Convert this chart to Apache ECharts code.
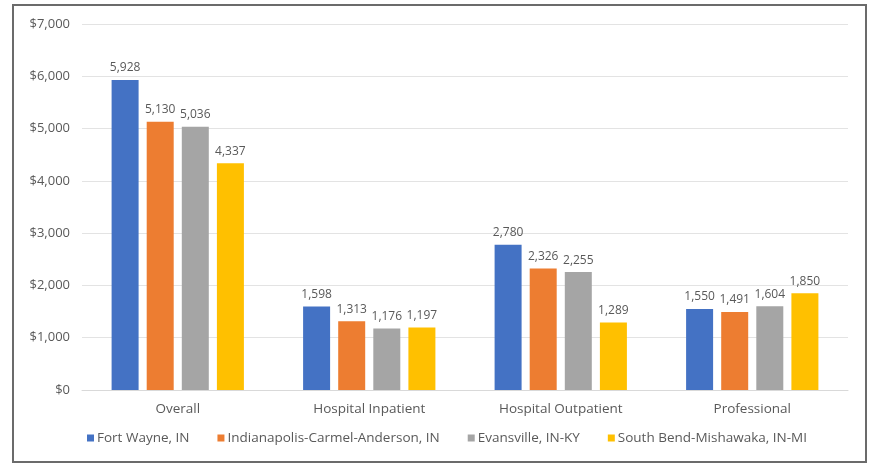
<!DOCTYPE html>
<html>
<head>
<meta charset="utf-8">
<script src="https://cdn.jsdelivr.net/npm/echarts@6/dist/echarts.min.js"></script>
<style>
  html, body { margin: 0; padding: 0; background: #fff; }
  #chart { width: 871px; height: 465px; }
</style>
</head>
<body>
<div id="chart"></div>
<script>
// Spending categories along the x axis
const categories = ['Overall', 'Hospital Inpatient', 'Hospital Outpatient', 'Professional'];

// One series per metro area
const fortWayne    = [5928, 1598, 2780, 1550];
const indianapolis = [5130, 1313, 2326, 1491];
const evansville   = [5036, 1176, 2255, 1604];
const southBend    = [4337, 1197, 1289, 1850];

const seriesNames = [
  'Fort Wayne, IN',
  'Indianapolis-Carmel-Anderson, IN',
  'Evansville, IN-KY',
  'South Bend-Mishawaka, IN-MI'
];
const seriesValues = [fortWayne, indianapolis, evansville, southBend];
const seriesColors = ['#4472C4', '#ED7D31', '#A5A5A5', '#FFC000'];

const textColor = '#595959';
const fontFamily = '"Open Sans", "Noto Sans", sans-serif';

const chart = echarts.init(document.getElementById('chart'), null, { renderer: 'canvas' });

chart.setOption({
  animation: false,
  backgroundColor: '#ffffff',
  textStyle: { fontFamily: fontFamily },
  graphic: [{
    type: 'rect',
    shape: { x: 13, y: 5, width: 853, height: 457 },
    style: { fill: 'none', stroke: '#6b6b6b', lineWidth: 2 },
    silent: true
  }],
  grid: { left: 82, right: 23, top: 24, bottom: 75, containLabel: false },
  legend: {
    bottom: 15,
    left: 82,
    itemWidth: 7,
    itemHeight: 7,
    itemGap: 28,
    icon: 'rect',
    textStyle: { color: textColor, fontSize: 13.5, fontFamily: fontFamily, padding: [0, 0, 0, -2] },
    data: seriesNames
  },
  xAxis: {
    type: 'category',
    data: categories,
    axisLine: { lineStyle: { color: '#d9d9d9', width: 1 } },
    axisTick: { show: false },
    axisLabel: { color: textColor, fontSize: 13.5, margin: 12, fontFamily: fontFamily }
  },
  yAxis: {
    type: 'value',
    min: 0,
    max: 7000,
    interval: 1000,
    axisLine: { show: false },
    axisTick: { show: false },
    splitLine: { lineStyle: { color: '#e3e3e3', width: 1 } },
    axisLabel: {
      color: textColor,
      fontSize: 13,
      margin: 12,
      fontFamily: fontFamily,
      formatter: v => '$' + v.toLocaleString('en-US')
    }
  },
  series: seriesNames.map((name, i) => ({
    name: name,
    type: 'bar',
    data: seriesValues[i],
    barWidth: 27,
    barGap: '30%',
    itemStyle: { color: seriesColors[i] },
    label: {
      show: true,
      position: 'top',
      distance: 6,
      color: textColor,
      fontSize: 12,
      fontFamily: fontFamily,
      formatter: p => p.value.toLocaleString('en-US')
    }
  }))
});
</script>
</body>
</html>
